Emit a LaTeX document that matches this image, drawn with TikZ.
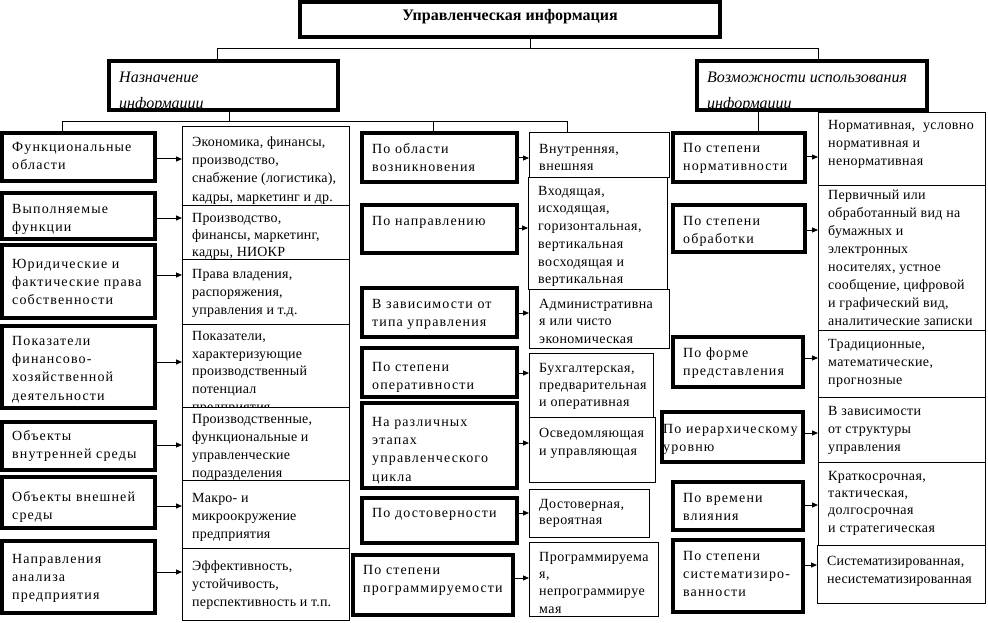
\documentclass[tikz,border=0pt]{standalone}
\usepackage{fontspec}
\setmainfont{Liberation Serif}
\usetikzlibrary{arrows.meta}
\newcommand\tf[2]{\fontsize{14}{#1}\selectfont\addfontfeatures{LetterSpace=#2}}
\tikzset{
  heavybox/.style={draw, line width=3.5pt, fill=white},
  lightbox/.style={draw, line width=1pt, fill=white},
  heavyboxtxt/.style={font=\tf{18.3}{8}},
  lightboxtxt/.style={font=\tf{18.3}{1.5}},
  txt/.style={anchor=north west, inner sep=0pt, align=left},
  conn/.style={line width=1pt},
  arr/.style={line width=1pt, -{Triangle[length=6pt,width=5pt]}},
}
% #1 text options, #2 name, #3 style, #4 x1, #5 y1, #6 x2, #7 y2, #8 first baseline offset, #9 text
\newcommand\bx[9][]{%
  \node[#3, anchor=north west, minimum width={#6-#4}, minimum height={#7-#5}, inner sep=0pt, outer sep=0pt] (#2) at (#4,#5) {};
  \node[txt,#3txt,#1] (#2t) at ({#4+10},{#5+#8-11}) {\rule{0pt}{11pt}#9};
}
\newcommand\arrowrow[3]{%
  \coordinate (#1ay) at (0,#3);
  \draw[arr] (#1.east |- #1ay) -- (#2.west |- #1ay);
}
\begin{document}
\begin{tikzpicture}[x=1pt,y=-1pt]
\fill[white] (0,0) rectangle (988,623);
\useasboundingbox (0,0) rectangle (988,623);

% title
\node[heavybox, anchor=north west, minimum width=420, minimum height=35, inner sep=0pt, outer sep=0pt] (top) at (300,2) {};
\node[font=\fontsize{16}{18}\selectfont\bfseries, inner sep=0pt] (topt) at (510,17) {Управленческая информация};

% categories
\bx[font=\fontsize{16}{26}\selectfont\itshape]{catL}{heavybox}{109}{61}{338}{110}{21}{Назначение\\информации}
\bx[font=\fontsize{16}{26}\selectfont\itshape]{catR}{heavybox}{697}{61}{927}{110}{21}{Возможности использования\\информации}

% tree connectors
\coordinate (jt) at (530,49);
\coordinate (hL) at (217,49);
\coordinate (hR) at (818,49);
\draw[conn] (top.south -| jt) -- (jt);
\draw[conn] (catL.north -| hL) -- (hL) -- (hR) -- (catR.north -| hR);

% column 1
\bx{c1a}{heavybox}{2}{133}{155}{181}{18}{Функциональные\\области}
\bx{c1b}{heavybox}{2}{193}{155}{239}{20}{Выполняемые\\функции}
\bx{c1c}{heavybox}{2}{245}{155}{318}{23}{Юридические и\\фактические права\\собственности}
\bx{c1d}{heavybox}{2}{326}{155}{408}{19}{Показатели\\финансово-\\хозяйственной\\деятельности}
\bx{c1e}{heavybox}{2}{422}{155}{470}{18}{Объекты\\внутренней среды}
\bx{c1f}{heavybox}{2}{477}{155}{528}{24}{Объекты внешней\\среды}
\bx{c1g}{heavybox}{2}{541}{155}{613}{22}{Направления\\анализа\\предприятия}

% column 2
\bx{c2a}{lightbox}{182}{127}{349}{205}{19}{Экономика, финансы,\\производство,\\снабжение (логистика),\\кадры, маркетинг и др.}
\bx[font=\tf{17}{1.5}]{c2b}{lightbox}{182}{205}{349}{259}{17}{Производство,\\финансы, маркетинг,\\кадры, НИОКР}
\bx{c2c}{lightbox}{182}{259}{349}{324}{19}{Права владения,\\распоряжения,\\управления и т.д.}
\bx[font=\tf{17.8}{1.5}]{c2d}{lightbox}{182}{324}{349}{407}{16}{Показатели,\\характеризующие\\производственный\\потенциал\\предприятия}
\bx[font=\tf{18}{1.5}]{c2e}{lightbox}{182}{407}{349}{480}{16}{Производственные,\\функциональные и\\управленческие\\подразделения}
\bx{c2f}{lightbox}{182}{480}{349}{548}{22}{Макро- и\\микроокружение\\предприятия}
\bx{c2g}{lightbox}{182}{548}{349}{620}{22}{Эффективность,\\устойчивость,\\перспективность и т.п.}

% column 3
\bx{c3a}{heavybox}{362}{133}{517}{182}{20}{По области\\возникновения}
\bx{c3b}{heavybox}{362}{205}{517}{253}{20}{По направлению}
\bx{c3c}{heavybox}{362}{288}{517}{337}{20}{В зависимости от\\типа управления}
\bx{c3d}{heavybox}{362}{348}{517}{397}{23}{По степени\\оперативности}
\bx{c3e}{heavybox}{362}{403}{517}{488}{23}{На различных\\этапах\\управленческого\\цикла}
\bx{c3f}{heavybox}{362}{498}{517}{543}{19}{По достоверности}
\bx{c3g}{heavybox}{353}{555}{513}{615}{19}{По степени\\программируемости}

% column 4
\bx[font=\tf{17}{3.5}]{c4a}{lightbox}{529}{133}{669}{177}{20}{Внутренняя,\\внешняя}
\bx[font=\tf{17.7}{3.5}]{c4b}{lightbox}{528}{177}{667}{289}{18}{Входящая,\\исходящая,\\горизонтальная,\\вертикальная\\восходящая и\\вертикальная}
\bx[font=\tf{17.5}{3}]{c4c}{lightbox}{529}{289}{669}{348}{19}{Административна\\я или чисто\\экономическая}
\bx[font=\tf{17}{3.5}]{c4d}{lightbox}{529}{353}{653}{417}{19}{Бухгалтерская,\\предварительная\\и оперативная}
\bx[font=\tf{18}{3.5}]{c4e}{lightbox}{529}{417}{655}{482}{20}{Осведомляющая\\и управляющая}
\bx[font=\tf{16.5}{3.5}]{c4f}{lightbox}{529}{489}{649}{537}{19}{Достоверная,\\вероятная}
\bx[font=\tf{17.3}{3.5}]{c4g}{lightbox}{529}{542}{658}{616}{19}{Программируема\\я,\\непрограммируе\\мая}

% column 5
\bx{c5a}{heavybox}{673}{133}{805}{182}{19}{По степени\\нормативности}
\bx{c5b}{heavybox}{673}{205}{805}{252}{20}{По степени\\обработки}
\bx{c5c}{heavybox}{673}{337}{803}{387}{20}{По форме\\представления}
\bx[xshift=-9pt]{c5d}{heavybox}{662}{412}{803}{462}{21}{По иерархическому\\уровню}
\bx{c5e}{heavybox}{673}{482}{803}{530}{20}{По времени\\влияния}
\bx{c5f}{heavybox}{673}{540}{803}{612}{20}{По степени\\систематизиро-\\ванности}

% column 6
\bx[font=\tf{18.3}{3}]{c6a}{lightbox}{818}{113}{985}{185}{16}{Нормативная,\ \ условно\\нормативная и\\ненормативная}
\bx[font=\tf{18.1}{2}]{c6b}{lightbox}{818}{185}{985}{332}{14}{Первичный или\\обработанный вид на\\бумажных и\\электронных\\носителях, устное\\сообщение, цифровой\\и графический вид,\\аналитические записки}
\bx[font=\tf{18.3}{3}]{c6c}{lightbox}{818}{330}{985}{397}{18}{Традиционные,\\математические,\\прогнозные}
\bx[font=\tf{18.3}{3}]{c6d}{lightbox}{818}{397}{985}{462}{18}{В зависимости\\от структуры\\управления}
\bx[font=\tf{17.3}{3}]{c6e}{lightbox}{818}{462}{985}{547}{18}{Краткосрочная,\\тактическая,\\долгосрочная\\и стратегическая}
\bx[font=\tf{18}{1}]{c6f}{lightbox}{817}{545}{985}{603}{20}{Систематизированная,\\несистематизированная}

% branch connectors
\coordinate (lA) at (229,122);
\coordinate (l1) at (62,122);
\coordinate (l2) at (433,122);
\coordinate (l3) at (567,122);
\draw[conn] (catL.south -| lA) -- (lA);
\draw[conn] (c1a.north -| l1) -- (l1) -- (l3) -- (c4a.north -| l3);
\draw[conn] (l2) -- (c3a.north -| l2);
\coordinate (rA) at (758,0);
\draw[conn] (catR.south -| rA) -- (c5a.north -| rA);

% arrows
\arrowrow{c1a}{c2a}{159}
\arrowrow{c1b}{c2b}{218}
\arrowrow{c1c}{c2c}{275}
\arrowrow{c1d}{c2d}{362}
\arrowrow{c1e}{c2e}{445}
\arrowrow{c1f}{c2f}{506}
\arrowrow{c1g}{c2g}{572}
\arrowrow{c3a}{c4a}{158}
\arrowrow{c3b}{c4b}{228}
\arrowrow{c3c}{c4c}{313}
\arrowrow{c3d}{c4d}{373}
\arrowrow{c3e}{c4e}{443}
\arrowrow{c3f}{c4f}{513}
\arrowrow{c3g}{c4g}{578}
\arrowrow{c5a}{c6a}{157}
\arrowrow{c5b}{c6b}{230}
\arrowrow{c5c}{c6c}{358}
\arrowrow{c5d}{c6d}{433}
\arrowrow{c5e}{c6e}{505}
\arrowrow{c5f}{c6f}{565}
\end{tikzpicture}
\end{document}
